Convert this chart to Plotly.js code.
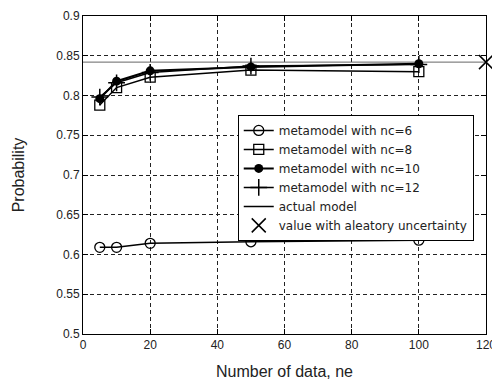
<!DOCTYPE html>
<html>
<head>
<meta charset="utf-8">
<script src="https://cdn.plot.ly/plotly-3.0.1.min.js"></script>
<style>html,body{margin:0;padding:0;background:#fff;}#chart{width:492px;height:383px;}</style>
</head>
<body>
<div id="chart"></div>
<script>
const ne = [5, 10, 20, 50, 100];
const nc6 = [0.609, 0.609, 0.614, 0.616, 0.618];
const nc8 = [0.788, 0.810, 0.823, 0.832, 0.830];
const nc10 = [0.796, 0.818, 0.831, 0.836, 0.840];
const nc12 = [0.798, 0.816, 0.829, 0.837, 0.839];
const actualX = [0, 120];
const actualY = [0.842, 0.842];
const aleatoryX = [120];
const aleatoryY = [0.842];
const xTicks = [0, 20, 40, 60, 80, 100, 120];
const yTicks = [0.5, 0.55, 0.6, 0.65, 0.7, 0.75, 0.8, 0.85, 0.9];

const traces = [
  {x: actualX, y: actualY, mode: 'lines', name: 'actual model', showlegend: false,
   line: {color: '#666', width: 1}, hoverinfo: 'skip'},
  {x: ne, y: nc6, mode: 'lines+markers', name: 'metamodel with nc=6',
   line: {color: 'black', width: 1.5},
   marker: {symbol: 'circle-open', size: 10, color: 'black', line: {width: 1.3, color: 'black'}}},
  {x: ne, y: nc8, mode: 'lines+markers', name: 'metamodel with nc=8',
   line: {color: 'black', width: 1.5},
   marker: {symbol: 'square-open', size: 10, color: 'black', line: {width: 1.3, color: 'black'}}},
  {x: ne, y: nc10, mode: 'lines+markers', name: 'metamodel with nc=10',
   line: {color: 'black', width: 2},
   marker: {symbol: 'circle', size: 9, color: 'black'}},
  {x: ne, y: nc12, mode: 'lines+markers', name: 'metamodel with nc=12',
   line: {color: 'black', width: 1.5},
   marker: {symbol: 'cross-thin', size: 12, color: 'black', line: {width: 1.5, color: 'black'}}},
  {x: [null], y: [null], mode: 'lines', name: 'actual model',
   line: {color: 'black', width: 1.5}},
  {x: aleatoryX, y: aleatoryY, mode: 'markers', name: 'value with aleatory uncertainty',
   cliponaxis: false,
   marker: {symbol: 'x-thin', size: 14, color: 'black', line: {width: 1.5, color: 'black'}}}
];

const axisCommon = {
  showline: true, linecolor: 'black', linewidth: 1, mirror: 'ticks',
  ticks: 'inside', ticklen: 5, tickcolor: 'black',
  showgrid: true, gridcolor: '#222', griddash: '4px,3px', gridwidth: 1,
  zeroline: false, ticklabeloverflow: 'allow',
  tickfont: {family: 'Liberation Sans, Arial, sans-serif', size: 12, color: '#222'}
};

const layout = {
  width: 492, height: 383,
  margin: {l: 83, r: 6, t: 16, b: 49},
  paper_bgcolor: 'white', plot_bgcolor: 'white',
  font: {family: 'Liberation Sans, Arial, sans-serif', size: 12, color: '#222'},
  showlegend: true,
  xaxis: Object.assign({}, axisCommon, {
    range: [0, 120], tickvals: xTicks, ticktext: xTicks.map(String),
    title: {text: 'Number of data, ne', font: {size: 16}, standoff: 14}
  }),
  yaxis: Object.assign({}, axisCommon, {
    range: [0.5, 0.9], tickvals: yTicks, ticktext: yTicks.map(String),
    title: {text: 'Probability', font: {size: 16}, standoff: 27}
  }),
  legend: {
    x: 0.384, y: 0.689, xanchor: 'left', yanchor: 'top',
    bgcolor: 'white', bordercolor: 'black', borderwidth: 1,
    font: {family: 'DejaVu Sans, sans-serif', size: 12, color: '#222'}, tracegroupgap: 0
  }
};

Plotly.newPlot('chart', traces, layout, {displayModeBar: false, staticPlot: true});
</script>
</body>
</html>
